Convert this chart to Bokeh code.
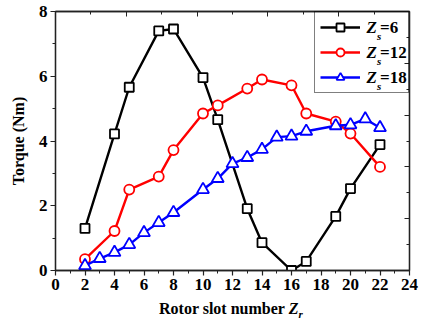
from bokeh.plotting import figure
from bokeh.models import (Range1d, LinearAxis, SingleIntervalTicker, Legend, LegendItem, Label, Div)
from bokeh.layouts import column
from bokeh.core.properties import value
from bokeh.embed import file_html
from bokeh.resources import INLINE

# ---- data ----
zr_6 = [2, 4, 5, 7, 8, 10, 11, 13, 14, 16, 17, 19, 20, 22]
torque_6 = [1.30, 4.22, 5.66, 7.40, 7.46, 5.96, 4.66, 1.91, 0.86, 0.0, 0.28, 1.67, 2.53, 3.89]

zr_12 = [2, 4, 5, 7, 8, 10, 11, 13, 14, 16, 17, 19, 20, 22]
torque_12 = [0.35, 1.22, 2.50, 2.90, 3.72, 4.85, 5.10, 5.62, 5.90, 5.72, 4.85, 4.60, 4.23, 3.20]

zr_18 = [2, 3, 4, 5, 6, 7, 8, 10, 11, 12, 13, 14, 15, 16, 17, 19, 20, 21, 22]
torque_18 = [0.15, 0.37, 0.56, 0.80, 1.17, 1.48, 1.79, 2.50, 2.84, 3.30, 3.49, 3.74,
             4.12, 4.15, 4.30, 4.47, 4.50, 4.68, 4.41]

series_suffix = ["=6", "=12", "=18"]
x_title = "Rotor slot number"
y_title = "Torque (Nm)"

FONT = "Liberation Serif"
AXC = "#222222"

p = figure(frame_width=354, frame_height=259, output_backend="svg", toolbar_location=None,
           x_range=Range1d(0, 24), y_range=Range1d(0, 8),
           min_border_left=55, min_border_right=10, min_border_top=11, min_border_bottom=28)
p.background_fill_color = "white"
p.border_fill_color = "white"
p.outline_line_color = AXC
p.outline_line_width = 1.3
p.xgrid.visible = False
p.ygrid.visible = False

xa = p.xaxis[0]
xa.ticker = SingleIntervalTicker(interval=2, num_minor_ticks=2)
ya = p.yaxis[0]
ya.ticker = SingleIntervalTicker(interval=2, num_minor_ticks=2)
for ax in (xa, ya):
    ax.axis_line_color = AXC
    ax.axis_line_width = 1.3
    ax.major_tick_line_color = AXC
    ax.minor_tick_line_color = AXC
    ax.major_tick_line_width = 1.2
    ax.minor_tick_line_width = 1.0
    ax.major_tick_out = 5
    ax.major_tick_in = 0
    ax.minor_tick_out = 3
    ax.minor_tick_in = 0
    ax.major_label_text_font = FONT
    ax.major_label_text_font_style = "bold"
    ax.major_label_text_font_size = "17px"
    ax.major_label_text_color = "black"
    ax.major_label_standoff = 3
ya.axis_label = y_title
ya.axis_label_text_font = FONT
ya.axis_label_text_font_style = "bold"
ya.axis_label_text_font_size = "16px"
ya.axis_label_text_color = "black"
ya.axis_label_standoff = 9

# mirrored axes (top / right) with inward ticks
p.extra_x_ranges = {"top": Range1d(0, 10)}
p.extra_y_ranges = {"right": Range1d(0, 10)}
top = LinearAxis(x_range_name="top")
right = LinearAxis(y_range_name="right")
for ax in (top, right):
    ax.ticker = SingleIntervalTicker(interval=2, num_minor_ticks=2)
    ax.axis_line_color = AXC
    ax.axis_line_width = 1.3
    ax.major_tick_line_color = AXC
    ax.minor_tick_line_color = AXC
    ax.major_tick_in = 5
    ax.major_tick_out = 0
    ax.minor_tick_in = 3
    ax.minor_tick_out = 0
    ax.major_label_overrides = {k: "" for k in range(0, 11, 2)}
    ax.major_label_text_font_size = "1px"
    ax.major_label_standoff = 0
p.add_layout(top, "above")
p.add_layout(right, "right")

# series
r6l = p.line(zr_6, torque_6, line_color="black", line_width=2.4)
r6m = p.scatter(zr_6, torque_6, marker="square", size=9, fill_color="white",
                line_color="black", line_width=1.8)
r12l = p.line(zr_12, torque_12, line_color="red", line_width=2.4)
r12m = p.scatter(zr_12, torque_12, marker="circle", size=10, fill_color="white",
                 line_color="red", line_width=1.8)
r18l = p.line(zr_18, torque_18, line_color="blue", line_width=2.4)
r18m = p.scatter(zr_18, torque_18, marker="triangle", size=12, fill_color="white",
                 line_color="blue", line_width=1.8)

legend = Legend(items=[
    LegendItem(label=value(" "), renderers=[r6l, r6m]),
    LegendItem(label=value(" "), renderers=[r12l, r12m]),
    LegendItem(label=value(" "), renderers=[r18l, r18m]),
], location="top_right", margin=0, padding=5, spacing=5,
    glyph_width=40, glyph_height=20, label_height=20, label_width=40, label_standoff=3,
    border_line_color="black", border_line_width=1.3, background_fill_alpha=0.0)
p.add_layout(legend)

# legend texts with italic subscript
for i, suf in enumerate(series_suffix):
    dy = -16 - 25 * i
    p.add_layout(Label(x=24, y=8, x_offset=-43, y_offset=dy, text="Z", level="overlay",
                       text_font=FONT, text_font_style="bold italic", text_font_size="17px",
                       text_baseline="middle", text_align="left", text_color="black"))
    p.add_layout(Label(x=24, y=8, x_offset=-32.5, y_offset=dy - 8, text="s", level="overlay",
                       text_font=FONT, text_font_style="bold italic", text_font_size="11px",
                       text_baseline="middle", text_align="left", text_color="black"))
    p.add_layout(Label(x=24, y=8, x_offset=-29.5, y_offset=dy, text=suf, level="overlay",
                       text_font=FONT, text_font_style="bold", text_font_size="17px",
                       text_baseline="middle", text_align="left", text_color="black"))

# x-axis title (with italic subscripted Z_r) as HTML below the plot
xdiv = Div(text=x_title + " <i>Z</i><sub style='font-size:11px'><i>r</i></sub>",
           width=420, height=27,
           styles={"font-family": FONT, "font-size": "16px", "font-weight": "bold",
                   "color": "black", "padding-left": "159px", "padding-top": "2px",
                   "line-height": "18px", "margin": "0px"})

layout = column(p, xdiv, spacing=0)
open("out.html", "w").write(file_html(layout, INLINE))
